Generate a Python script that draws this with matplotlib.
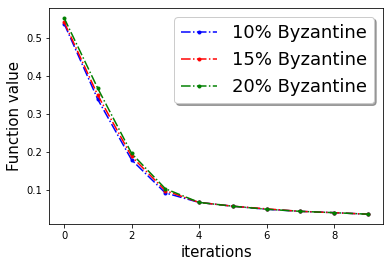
import numpy as np
import matplotlib
matplotlib.use('Agg')
import matplotlib.pyplot as plt

# iterations and function values
iters = np.arange(10)
byz10 = [0.537, 0.337, 0.178, 0.091, 0.066, 0.056, 0.048, 0.0425, 0.039, 0.035]
byz15 = [0.541, 0.348, 0.187, 0.097, 0.066, 0.056, 0.049, 0.0425, 0.039, 0.035]
byz20 = [0.552, 0.366, 0.195, 0.102, 0.066, 0.056, 0.048, 0.0425, 0.039, 0.035]

fig = plt.figure(figsize=(391/72, 267/72), dpi=72)
ax = fig.add_axes([0.125, 0.161, 0.855, 0.809])

ax.plot(iters, byz10, 'b.-.', label='10% Byzantine')
ax.plot(iters, byz15, 'r.-.', label='15% Byzantine')
ax.plot(iters, byz20, 'g.-.', label='20% Byzantine')

ax.set_xlabel('iterations', fontsize=15)
ax.set_ylabel('Function value', fontsize=15)
ax.legend(loc='upper right', fontsize=18, shadow=True)

fig.savefig('out.png', dpi=72)
